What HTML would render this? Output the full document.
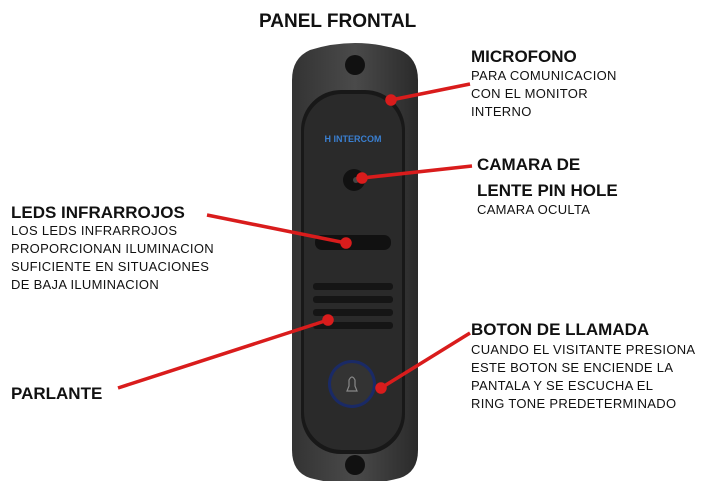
<!DOCTYPE html><html><head><style>
body{margin:0;width:723px;height:481px;background:#fff;position:relative;overflow:hidden;font-family:"Liberation Sans",sans-serif;}
.t{position:absolute;color:#111;}
.h{font-weight:bold;font-size:17px;}
.s{font-size:13px;line-height:18px;letter-spacing:0.3px;}
</style></head><body>
<svg width="723" height="481" style="position:absolute;left:0;top:0">
<defs><linearGradient id="g" x1="0" x2="1"><stop offset="0" stop-color="#333"/><stop offset="0.5" stop-color="#4a4a4a"/><stop offset="1" stop-color="#2a2a2a"/></linearGradient></defs>
<path d="M310 50 Q355 36 400 50 Q418 58 418 80 L418 450 Q418 472 400 478 Q355 490 310 478 Q292 472 292 450 L292 80 Q292 58 310 50Z" fill="url(#g)"/>
<circle cx="355" cy="65" r="10" fill="#111"/><circle cx="355" cy="465" r="10" fill="#111"/>
<rect x="301" y="90" width="104" height="364" rx="40" fill="#181818"/>
<rect x="304" y="94" width="98" height="356" rx="38" fill="#2a2a2a"/>
<text x="353" y="142" font-size="9" font-weight="bold" fill="#3a7fd0" text-anchor="middle" font-family="Liberation Sans">H INTERCOM</text>
<circle cx="354" cy="180" r="11" fill="#111"/><circle cx="356" cy="180" r="3" fill="#444"/>
<rect x="315" y="235" width="76" height="15" rx="7" fill="#111"/>
<g fill="#151515"><rect x="313" y="283" width="80" height="7" rx="3"/><rect x="313" y="296" width="80" height="7" rx="3"/><rect x="313" y="309" width="80" height="7" rx="3"/><rect x="313" y="322" width="80" height="7" rx="3"/></g>
<circle cx="352" cy="384" r="24" fill="#1a2a66"/><circle cx="352" cy="384" r="21" fill="#333"/>
<path d="M347 391 L357 391 L355 386 L355 380 Q352 374 349 380 L349 386Z" fill="none" stroke="#888" stroke-width="1.2"/>
<g stroke="#d91c1c" stroke-width="3.5" fill="#d91c1c">
<line x1="391" y1="100" x2="470" y2="84"/><circle cx="391" cy="100" r="4"/>
<line x1="362" y1="178" x2="472" y2="166"/><circle cx="362" cy="178" r="4"/>
<line x1="207" y1="215" x2="346" y2="243"/><circle cx="346" cy="243" r="4"/>
<line x1="118" y1="388" x2="328" y2="320"/><circle cx="328" cy="320" r="4"/>
<line x1="381" y1="388" x2="470" y2="333"/><circle cx="381" cy="388" r="4"/>
</g></svg>
<div class="t h" style="left:259px;top:11px;font-size:19px">PANEL FRONTAL</div>
<div class="t h" style="left:471px;top:47px">MICROFONO</div>
<div class="t s" style="left:471px;top:67px">PARA COMUNICACION<br>CON EL MONITOR<br>INTERNO</div>
<div class="t h" style="left:477px;top:152px;line-height:26px">CAMARA DE<br>LENTE PIN HOLE</div>
<div class="t s" style="left:477px;top:201px">CAMARA OCULTA</div>
<div class="t h" style="left:11px;top:203px">LEDS INFRARROJOS</div>
<div class="t s" style="left:11px;top:222px">LOS LEDS INFRARROJOS<br>PROPORCIONAN ILUMINACION<br>SUFICIENTE EN SITUACIONES<br>DE BAJA ILUMINACION</div>
<div class="t h" style="left:11px;top:384px">PARLANTE</div>
<div class="t h" style="left:471px;top:320px">BOTON DE LLAMADA</div>
<div class="t s" style="left:471px;top:341px">CUANDO EL VISITANTE PRESIONA<br>ESTE BOTON SE ENCIENDE LA<br>PANTALA Y SE ESCUCHA EL<br>RING TONE PREDETERMINADO</div>
</body></html>
